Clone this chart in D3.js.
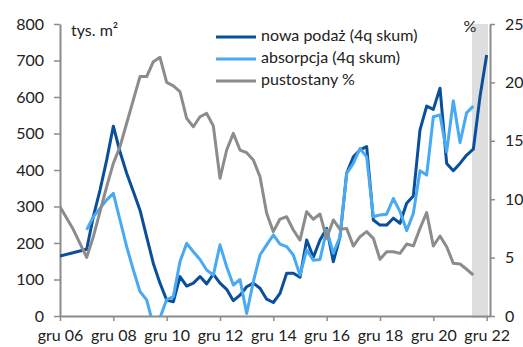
<!DOCTYPE html>
<html>
<head>
<meta charset="utf-8">
<script src="https://cdn.jsdelivr.net/npm/d3@7"></script>
<style>
  body { margin: 0; background: #fff; }
  svg text { font-family: Lato, "Open Sans", sans-serif; fill: #222; }
</style>
</head>
<body>
<svg id="chart"></svg>
<script>
// quarterly data, index 0 = Q4 2006 (gru 06), index 64 = Q4 2022 (gru 22); null = no point
const nowaPodaz = [164, null, null, null, 183, 272, 345, 427, 520, 450, 391, 341, 290, 217, 144, 90,
  44, 39, 108, 82, 90, 108, 88, 115, 90, 73, 42, 57, 80, 90, 76, 46,
  37, 62, 117, 117, 106, 208, 161, 208, 240, 149, 217, 391, 436, 455, 464, 263,
  249, 249, 268, 254, 309, 329, 510, 575, 566, 624, 418, 398, 418, 441, 457, 601, 715];

const absorpcja = [null, null, null, null, 236, 272, 295, 318, 336, 263, 190, 126, 67, 44, -25, -5,
  45, 53, 149, 199, 176, 155, 126, 112, 195, 135, 85, 100, 7, 94, 167, 195,
  222, 197, 190, 167, 112, 181, 153, 155, 236, 172, 217, 391, 418, 459, 436, 272,
  277, 279, 322, 286, 234, 281, 398, 386, 546, 551, 450, 590, 475, 557, 575, null, null];

const pustostany = [9.36, null, 7.4, null, 5.02, 6.79, 8.93, 11.07, 13.07, 14.5, 16.5, 18.5, 20.5, 20.5, 21.77, 22.15,
  20.0, 19.7, 19.2, 16.92, 16.2, 17.06, 17.35, 16.27, 11.79, 14.21, 15.64, 14.21, 13.98, 13.36, 11.93, 8.79,
  7.22, 8.3, 8.5, 7.36, 6.5, 8.93, 8.28, 8.73, 6.65, 8.22, 7.42, 7.5, 5.99, 6.79, 7.22, 6.65,
  4.85, 5.5, 5.5, 5.36, 6.16, 6.0, 7.5, 8.85, 6.0, 6.85, 5.93, 4.51, 4.45, 4.0, 3.51, null, null];

const xTickIdx = [0, 8, 16, 24, 32, 40, 48, 56, 64];
const xTickLabels = ["gru 06", "gru 08", "gru 10", "gru 12", "gru 14", "gru 16", "gru 18", "gru 20", "gru 22"];
const leftTicks = [0, 100, 200, 300, 400, 500, 600, 700, 800];
const rightTicks = [0, 5, 10, 15, 20, 25];
const forecastRange = [61.8, 64.2];

const seriesNames = ["nowa podaż (4q skum)", "absorpcja (4q skum)", "pustostany %"];
const colors = ["#0a4f9c", "#47aaf2", "#8c8c8c"];

function drawChart() {
    const width = 523, height = 347;
    const svg = d3.select("#chart").attr("width", width).attr("height", height);

    const x = d3.scaleLinear().domain([0, 64.5]).range([60, 490]);
    const yL = d3.scaleLinear().domain([0, 800]).range([316, 24]);
    const yR = d3.scaleLinear().domain([0, 25]).range([316, 24]);

    svg.append("defs").append("clipPath").attr("id", "plot")
        .append("rect")
        .attr("x", x(0)).attr("y", yL(800) - 5)
        .attr("width", x(64.5) - x(0)).attr("height", yL(0) - yL(800) + 5);

    // forecast shading
    svg.append("rect")
        .attr("x", x(forecastRange[0]))
        .attr("y", yR(25))
        .attr("width", x(forecastRange[1]) - x(forecastRange[0]))
        .attr("height", yR(0) - yR(25) + 2)
        .attr("fill", "#dedede");

    const axisColor = "#8c8c8c";
    function styleAxis(g) {
        g.select(".domain").attr("stroke", axisColor).attr("stroke-width", 2);
        g.selectAll(".tick line").attr("stroke", axisColor).attr("stroke-width", 1.5);
        g.selectAll(".tick text").attr("font-size", 16).attr("fill", "#222")
            .attr("font-family", "Lato, 'Open Sans', sans-serif");
    }

    svg.append("g")
        .attr("transform", "translate(0,316)")
        .call(d3.axisBottom(x).tickValues(xTickIdx)
            .tickFormat((d, i) => xTickLabels[i]).tickSize(5).tickSizeOuter(0).tickPadding(9))
        .call(styleAxis);

    svg.append("g")
        .attr("transform", `translate(${x(0)},0)`)
        .call(d3.axisLeft(yL).tickValues(leftTicks).tickSize(6).tickSizeOuter(0).tickPadding(10))
        .call(styleAxis);

    svg.append("g")
        .attr("transform", `translate(${x(64.5)},0)`)
        .call(d3.axisRight(yR).tickValues(rightTicks).tickSize(5).tickSizeOuter(0).tickPadding(10))
        .call(styleAxis);

    const plot = svg.append("g").attr("clip-path", "url(#plot)");

    function toPoints(arr) {
        return arr.map((v, i) => [i, v]).filter(d => d[1] !== null);
    }

    const lineL = d3.line().x(d => x(d[0])).y(d => yL(d[1]));
    const lineR = d3.line().x(d => x(d[0])).y(d => yR(d[1]));

    plot.append("path").datum(toPoints(nowaPodaz))
        .attr("d", lineL).attr("fill", "none")
        .attr("stroke", colors[0]).attr("stroke-width", 3).attr("stroke-linejoin", "round");
    plot.append("path").datum(toPoints(absorpcja))
        .attr("d", lineL).attr("fill", "none")
        .attr("stroke", colors[1]).attr("stroke-width", 3).attr("stroke-linejoin", "round");
    plot.append("path").datum(toPoints(pustostany))
        .attr("d", lineR).attr("fill", "none")
        .attr("stroke", colors[2]).attr("stroke-width", 3).attr("stroke-linejoin", "round");

    // unit labels
    svg.append("text").attr("x", 71).attr("y", 32).attr("dominant-baseline", "middle")
        .attr("font-size", 16).text("tys. m²");
    svg.append("text").attr("x", 470).attr("y", 28).attr("dominant-baseline", "middle")
        .attr("text-anchor", "middle").attr("font-size", 16).text("%");

    // legend
    const legend = svg.append("g");
    seriesNames.forEach((name, i) => {
        const ly = 37 + i * 22;
        legend.append("line").attr("x1", 216).attr("x2", 256).attr("y1", ly).attr("y2", ly)
            .attr("stroke", colors[i]).attr("stroke-width", 3);
        legend.append("text").attr("x", 261).attr("y", ly).attr("dominant-baseline", "middle")
            .attr("font-size", 16).text(name);
    });
}

document.addEventListener("DOMContentLoaded", drawChart);
</script>
</body>
</html>
